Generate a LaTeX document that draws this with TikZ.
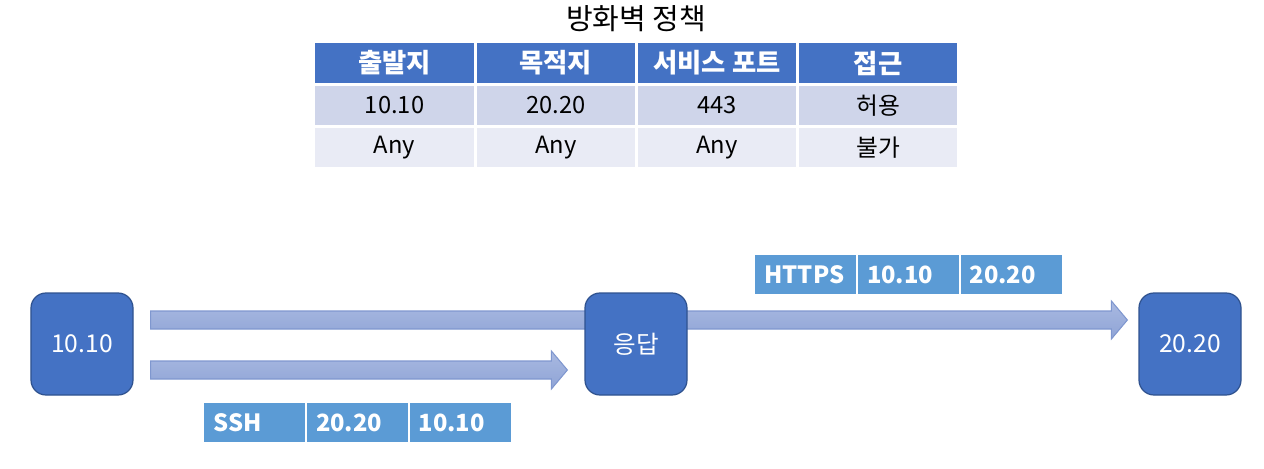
\documentclass[tikz,border=0pt]{standalone}
\usepackage{fontspec}
\setmainfont{Noto Sans CJK KR}
\usetikzlibrary{calc,positioning,backgrounds}
\definecolor{hdblue}{HTML}{4472C4}
\definecolor{rowone}{HTML}{CFD5EA}
\definecolor{rowtwo}{HTML}{E9EBF5}
\definecolor{hostline}{HTML}{2F528F}
\definecolor{pktblue}{HTML}{5B9BD5}
\definecolor{arrtop}{HTML}{A9B9E1}
\definecolor{arrbot}{HTML}{8FA4D6}
\definecolor{arrline}{HTML}{7F97CF}

\begin{document}
\begin{tikzpicture}[x=0.2mm,y=0.2mm,node distance=0.4mm,
cell/.style={minimum width=31.7mm,minimum height=7.9mm,inner sep=0pt,font=\fontsize{13.5}{15}\selectfont},
headcell/.style={cell,fill=hdblue,text=white,font=\fontsize{15}{17}\selectfont\bfseries},
cellone/.style={cell,fill=rowone},
celltwo/.style={cell,fill=rowtwo},
host/.style={draw=hostline,fill=hdblue,line width=0.7pt,rounded corners=3mm,minimum size=20.4mm,text=white,font=\fontsize{14}{16}\selectfont},
pkt/.style={fill=pktblue,text=white,font=\fontsize{13.5}{15}\selectfont\bfseries,minimum height=7.8mm,text width=16.6mm,inner xsep=1.8mm,inner ysep=0pt,align=left},
blk/.style={draw=arrline,line width=0.6pt,top color=arrtop,bottom color=arrbot}]
\useasboundingbox (0,0) rectangle (1264,-468);
% firewall policy table
\node[font=\fontsize{16.5}{18}\selectfont] (title) at (636,-19) {방화벽 정책};
\node[headcell,anchor=north west] (h1) at (315,-43) {출발지};
\node[headcell,right=of h1] (h2) {목적지};
\node[headcell,right=of h2] (h3) {서비스 포트};
\node[headcell,right=of h3] (h4) {접근};
\node[cellone,below=of h1] (a1) {10.10};
\node[cellone,below=of h2] (a2) {20.20};
\node[cellone,below=of h3] (a3) {443};
\node[cellone,below=of h4] (a4) {허용};
\node[celltwo,below=of a1] (b1) {Any};
\node[celltwo,below=of a2] (b2) {Any};
\node[celltwo,below=of a3] (b3) {Any};
\node[celltwo,below=of a4] (b4) {불가};
% hosts
\node[host] (src) at (82,-344) {10.10};
\node[host] (resp) at (636,-344) {응답};
\node[host] (dst) at (1190,-344) {20.20};
% flows
\coordinate (s1) at ($(src.east)+(17,24)$);
\coordinate (e1) at ($(dst.west)+(-11,24)$);
\coordinate (s2) at ($(src.east)+(17,-26)$);
\coordinate (e2) at ($(resp.west)+(-17,-26)$);
\begin{scope}[on background layer]
\foreach \s/\e in {s1/e1,s2/e2}
  \draw[blk] ($(\s)+(0,9)$) -- ($(\e)+(-16,9)$) -- ($(\e)+(-16,19)$) -- (\e)
    -- ($(\e)+(-16,-19)$) -- ($(\e)+(-16,-9)$) -- ($(\s)+(0,-9)$) -- cycle;
\end{scope}
% packets
\node[pkt,anchor=north west] (q1) at (755,-255) {HTTPS};
\node[pkt,right=0.2mm of q1] (q2) {10.10};
\node[pkt,right=0.2mm of q2] (q3) {20.20};
\node[pkt,anchor=north west] (p1) at (204,-403) {SSH};
\node[pkt,right=0.2mm of p1] (p2) {20.20};
\node[pkt,right=0.2mm of p2] (p3) {10.10};
\end{tikzpicture}
\end{document}
